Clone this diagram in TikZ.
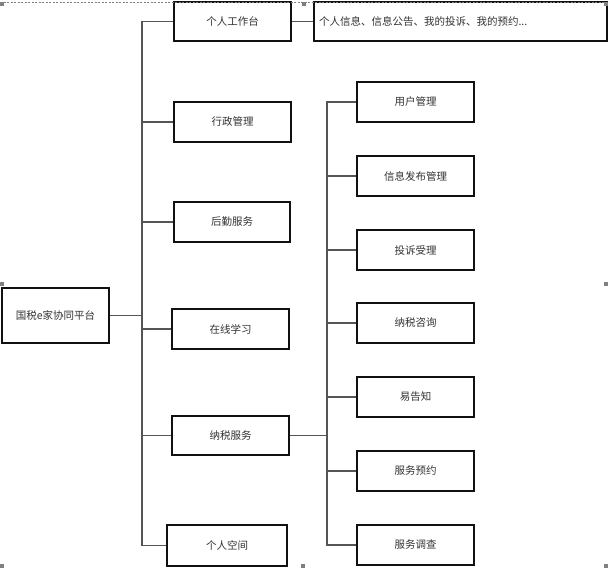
\documentclass[tikz,border=0pt]{standalone}
\usepackage{fontspec}
\usepackage{xcolor}
\setmainfont{Noto Sans CJK SC}
\usetikzlibrary{calc}
\definecolor{ink}{HTML}{333333}
\definecolor{wire}{HTML}{555555}
\definecolor{edge}{HTML}{111111}
\definecolor{handle}{HTML}{808080}
\tikzset{
  box/.style={draw=edge, line width=1.1pt, fill=white, text=ink, font=\fontsize{10.5}{12}\selectfont,
    minimum width=117pt, minimum height=40pt, inner sep=0pt},
  wide/.style={box, text width=283pt, align=left, inner xsep=5pt, minimum height=39pt},
  conn/.style={draw=wire, line width=1.1pt},
  sel/.style={draw=handle, dashed, line width=0.6pt, dash pattern=on 2pt off 1.5pt},
  grip/.style={fill=handle},
}
\begin{document}
\begin{tikzpicture}[x=1pt, y=-1pt]
  \useasboundingbox (0,0) rectangle (608,568);
  \coordinate (trunkL) at (142,0);
  \coordinate (trunkR) at (327,0);
  % root and first level
  \node[box, minimum width=107pt, minimum height=55pt] (root) at (55.5,315.5) {国税e家协同平台};
  \node[box, minimum height=39pt] (gzt) at (232.5,21.5) {个人工作台};
  \node[wide] (info) at (460.5,21.5) {个人信息、信息公告、我的投诉、我的预约...};
  \node[box] (xz) at (232.5,122) {行政管理};
  \node[box, minimum width=116pt] (hq) at (232,222) {后勤服务};
  \node[box] (zx) at (230.5,329) {在线学习};
  \node[box, minimum height=39pt] (ns) at (230.5,435.5) {纳税服务};
  \node[box, minimum width=120pt, minimum height=41pt] (kj) at (227,545.5) {个人空间};
  % second level
  \node[box] (yh) at (415.5,102) {用户管理};
  \node[box] (fb) at (415.5,176) {信息发布管理};
  \node[box] (ts) at (415.5,250) {投诉受理};
  \node[box] (zx2) at (415.5,323) {纳税咨询};
  \node[box] (ygz) at (415.5,397) {易告知};
  \node[box] (yy) at (415.5,471) {服务预约};
  \node[box] (dc) at (415.5,545) {服务调查};
  % connectors
  \draw[conn] (root.east) -- (root.east -| trunkL);
  \draw[conn] (gzt.west) -- (gzt.west -| trunkL) -- (kj.west -| trunkL) -- (kj.west);
  \foreach \n in {xz,hq,zx,ns}
    \draw[conn] (\n.west) -- (\n.west -| trunkL);
  \draw[conn] (gzt.east) -- (info.west);
  \draw[conn] (ns.east) -- (ns.east -| trunkR);
  \draw[conn] (yh.west) -- (yh.west -| trunkR) -- (dc.west -| trunkR) -- (dc.west);
  \foreach \n in {fb,ts,zx2,ygz,yy}
    \draw[conn] (\n.west) -- (\n.west -| trunkR);
  % selection frame
  \draw[sel] (0,2) -- (608,2);
  \foreach \p in {(2,4),(304,4),(606,4),(2,284),(606,284),(2,566),(303,566),(606,566)}
    \fill[grip] \p ++(-2,-2) rectangle ++(4,4);
\end{tikzpicture}
\end{document}
